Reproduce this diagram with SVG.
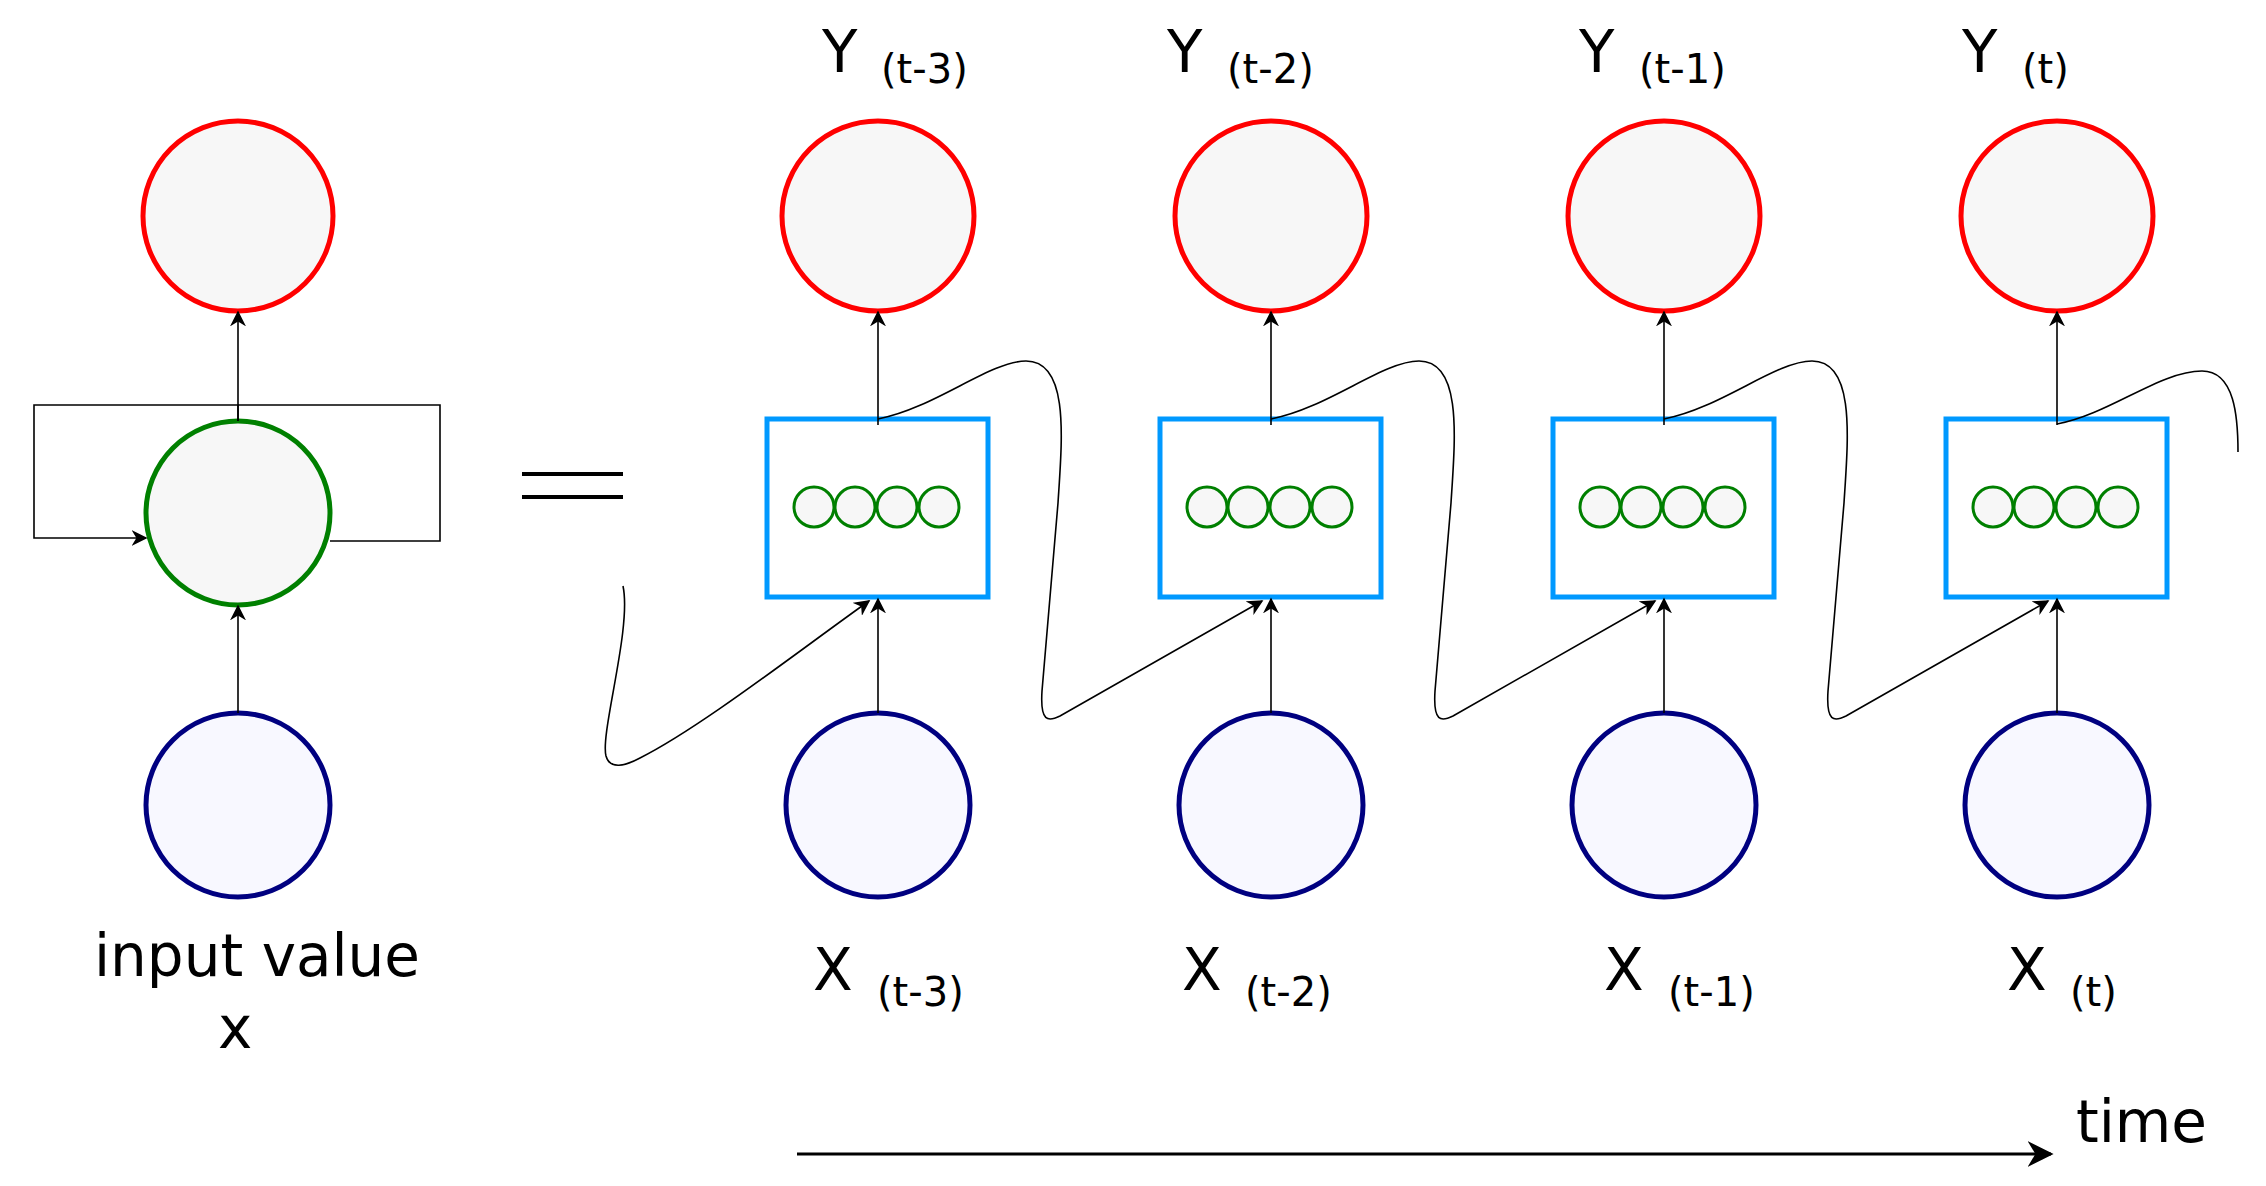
<svg xmlns="http://www.w3.org/2000/svg" width="2266" height="1186" viewBox="0 0 2266 1186">
<defs>
<marker id="ah" viewBox="0 0 10 10" refX="9" refY="5" markerWidth="16" markerHeight="16" markerUnits="userSpaceOnUse" orient="auto"><path d="M0,0 L10,5 L0,10 L3,5 z" fill="#000"/></marker>
<marker id="ahb" viewBox="0 0 10 10" refX="9" refY="5" markerWidth="26" markerHeight="26" markerUnits="userSpaceOnUse" orient="auto"><path d="M0,0 L10,5 L0,10 L3,5 z" fill="#000"/></marker>
<style>
.out{fill:#f7f7f7;stroke:#ff0000;stroke-width:5}
.hid{fill:#f7f7f7;stroke:#008000;stroke-width:5}
.inp{fill:#f8f8ff;stroke:#000080;stroke-width:5}
.box{fill:#fff;stroke:#0099ff;stroke-width:5}
.sm{fill:#f7f7f7;stroke:#008000;stroke-width:3}
.ln{fill:none;stroke:#000;stroke-width:1.6}
.t{font-family:"DejaVu Sans",sans-serif;fill:#000}
.big{font-size:58px}
.sub{font-size:40px}
</style>
<g id="unit">
<rect class="box" x="767" y="419" width="221" height="178"/>
<circle class="sm" cx="814" cy="507" r="20"/><circle class="sm" cx="855" cy="507" r="20"/><circle class="sm" cx="897" cy="507" r="20"/><circle class="sm" cx="939" cy="507" r="20"/>
</g>
</defs>
<g id="left">
<ellipse class="out" cx="238" cy="216" rx="95" ry="95"/>
<ellipse class="hid" cx="238" cy="513" rx="92" ry="92"/>
<ellipse class="inp" cx="238" cy="805" rx="92" ry="92"/>
<text class="t big" x="94" y="976">input value</text>
<text class="t big" x="218" y="1048">x</text>
</g>
<g id="equals"><line x1="522" y1="474" x2="623" y2="474" stroke="#000" stroke-width="4"/><line x1="522" y1="497" x2="623" y2="497" stroke="#000" stroke-width="4"/></g>
<g id="col1"><ellipse class="out" cx="878" cy="216" rx="96" ry="95"/><use href="#unit"/><ellipse class="inp" cx="878" cy="805" rx="92" ry="92"/>
<text class="t big" x="822" y="72">Y</text><text class="t sub" x="881" y="83">(t-3)</text>
<text class="t big" x="813" y="990">X</text><text class="t sub" x="877" y="1006">(t-3)</text></g>
<g id="col2"><ellipse class="out" cx="1271" cy="216" rx="96" ry="95"/><use href="#unit" x="393"/><ellipse class="inp" cx="1271" cy="805" rx="92" ry="92"/>
<text class="t big" x="1167" y="72">Y</text><text class="t sub" x="1227" y="83">(t-2)</text>
<text class="t big" x="1182" y="990">X</text><text class="t sub" x="1245" y="1006">(t-2)</text></g>
<g id="col3"><ellipse class="out" cx="1664" cy="216" rx="96" ry="95"/><use href="#unit" x="786"/><ellipse class="inp" cx="1664" cy="805" rx="92" ry="92"/>
<text class="t big" x="1579" y="72">Y</text><text class="t sub" x="1639" y="83">(t-1)</text>
<text class="t big" x="1604" y="990">X</text><text class="t sub" x="1668" y="1006">(t-1)</text></g>
<g id="col4"><ellipse class="out" cx="2057" cy="216" rx="96" ry="95"/><use href="#unit" x="1179"/><ellipse class="inp" cx="2057" cy="805" rx="92" ry="92"/>
<text class="t big" x="1962" y="72">Y</text><text class="t sub" x="2022" y="83">(t)</text>
<text class="t big" x="2007" y="990">X</text><text class="t sub" x="2070" y="1006">(t)</text></g>
<text class="t big" x="2076" y="1142">time</text>
<g id="connectors">
<path class="ln" d="M238 421 V312" marker-end="url(#ah)"/>
<path class="ln" d="M238 713 V606" marker-end="url(#ah)"/>
<path class="ln" d="M238 421 V405 H34 V538 H146" marker-end="url(#ah)"/>
<path class="ln" d="M330 541 H440 V405 H238"/>
<g id="v">
<path class="ln" d="M878 713 V599" marker-end="url(#ah)"/>
<path class="ln" d="M878 425 V312" marker-end="url(#ah)"/>
</g>
<use href="#v" x="393"/><use href="#v" x="786"/><use href="#v" x="1179"/>
<g id="w"><path class="ln" d="M878 419 C935 408 990 361 1026 361 C1070 361 1062 440 1058 503 L1042 691 C1040 722 1048 722 1060 716 L1262 601" marker-end="url(#ah)"/></g>
<use href="#w" x="393"/><use href="#w" x="786"/>
<path class="ln" d="M2057 424 C2110 414 2160 371 2202 371 C2235 371 2238 418 2238 452"/>
<path class="ln" d="M623 586 C632 628 600 733 606 756 C610 770 625 766 640 758 C700 728 800 650 869 601" marker-end="url(#ah)"/>
<path d="M797 1154 H2051" stroke="#000" stroke-width="3" marker-end="url(#ahb)"/>
</g>
</svg>
